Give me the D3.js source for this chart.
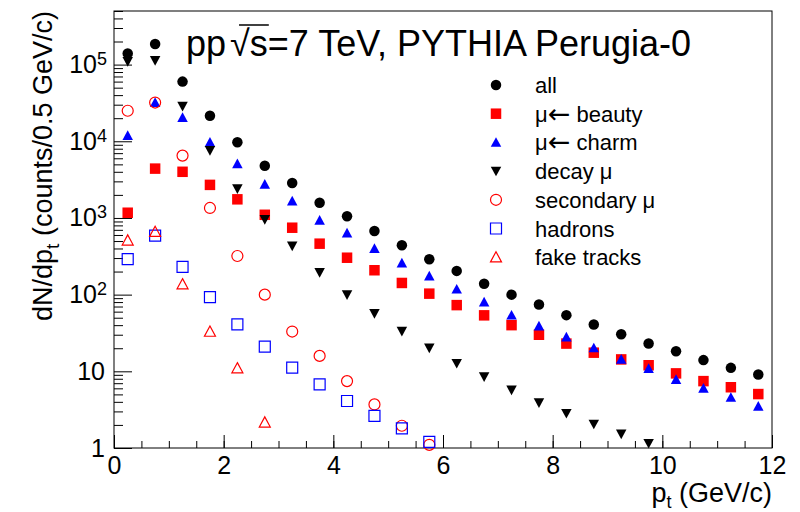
<!DOCTYPE html>
<html>
<head>
<meta charset="utf-8">
<script src="https://cdn.jsdelivr.net/npm/d3@7"></script>
<style>
  body { margin: 0; background: #fff; }
  text { font-family: "Liberation Sans", Arial, Helvetica, sans-serif; }
</style>
</head>
<body>
<svg id="chart" width="800" height="512"></svg>
<script>
// bin centres in pt (GeV/c), 0.5 GeV/c wide bins
const ptBins = [0.25, 0.75, 1.25, 1.75, 2.25, 2.75, 3.25, 3.75, 4.25, 4.75, 5.25, 5.75,
  6.25, 6.75, 7.25, 7.75, 8.25, 8.75, 9.25, 9.75, 10.25, 10.75, 11.25, 11.75];

const allMu = [1.4e5, 1.86e5, 6.0e4, 2.15e4, 9.7e3, 4.8e3, 2.85e3, 1.58e3, 1.05e3, 675, 440, 290,
  204, 139, 100, 74.5, 54, 40.8, 30.5, 23, 18.3, 14, 11.1, 9.1];
const beautyMu = [1.17e3, 4.4e3, 4.0e3, 2.7e3, 1.75e3, 1.1e3, 746, 462, 303, 208, 142, 103,
  73, 53.7, 40, 30, 23, 17.5, 14.3, 12, 9.4, 7.45, 6.2, 5.05];
const charmMu = [1.19e4, 3.2e4, 2.04e4, 9.7e3, 5.1e3, 2.75e3, 1.66e3, 935, 635, 400, 259, 175,
  118, 80, 54, 39, 28, 20.2, 14.4, 10.9, 7.8, 6.0, 4.57, 3.5];
const decayMu = [1.1e5, 1.13e5, 2.86e4, 7.6e3, 2.4e3, 955, 430, 194, 100, 56.8, 33.4, 20.2,
  12.7, 8.5, 5.7, 3.9, 2.83, 2.05, 1.52, 1.15, null, null, null, null];
const secondaryMu = [2.5e4, 3.2e4, 6.5e3, 1.35e3, 319, 100, 33, 15.9, 7.45, 3.7, 1.95, 1.1,
  null, null, null, null, null, null, null, null, null, null, null, null];
const hadrons = [290, 590, 230, 93, 41, 21, 11.2, 6.75, 4.1, 2.63, 1.8, 1.2,
  null, null, null, null, null, null, null, null, null, null, null, null];
const fakeTracks = [510, 660, 137, 33, 11, 2.16, null, null, null, null, null, null,
  null, null, null, null, null, null, null, null, null, null, null, null];

const xTicks = [0, 2, 4, 6, 8, 10, 12];
const yTicks = [1, 10, 100, 1000, 10000, 100000];

const series = [
  { label: "all", values: allMu, type: "circle", fill: "#000", stroke: "none" },
  { label: "\u03bc\u2190 beauty", values: beautyMu, type: "square", fill: "#ff0000", stroke: "none" },
  { label: "\u03bc\u2190 charm", values: charmMu, type: "triUp", fill: "#0000ff", stroke: "none" },
  { label: "decay \u03bc", values: decayMu, type: "triDown", fill: "#000", stroke: "none" },
  { label: "secondary \u03bc", values: secondaryMu, type: "circle", fill: "none", stroke: "#ff0000" },
  { label: "hadrons", values: hadrons, type: "square", fill: "none", stroke: "#0000ff" },
  { label: "fake tracks", values: fakeTracks, type: "triUp", fill: "none", stroke: "#ff0000" }
];

const W = 800, H = 512;
const margin = { top: 11, right: 28, bottom: 64, left: 114 };
const width = W - margin.left - margin.right;
const height = H - margin.top - margin.bottom;

const svg = d3.select("#chart");
const g = svg.append("g")
  .attr("transform", "translate(" + margin.left + "," + margin.top + ")");

const x = d3.scaleLinear().domain([0, 12]).range([0, width]);
const y = d3.scaleLog().domain([1, 5e5]).range([height, 0]);

// marker shapes, roughly like ROOT styles 20/21/22/23/24/25/26
function markerPath(type, s) {
  const h = s / 2;
  if (type === "circle") return d3.symbol(d3.symbolCircle, Math.PI * h * h)();
  if (type === "square") return `M${-h},${-h}H${h}V${h}H${-h}Z`;
  if (type === "triUp") return `M0,${-h}L${h},${h * 0.85}L${-h},${h * 0.85}Z`;
  return `M0,${h}L${h},${-h * 0.85}L${-h},${-h * 0.85}Z`;
}

// x axis: major ticks pointing up into the frame, minor every 0.5
g.append("g")
  .attr("transform", "translate(0," + height + ")")
  .call(d3.axisBottom(x).tickValues(d3.range(0, 12.01, 0.5)).tickSize(-7).tickFormat(""))
  .call(a => a.select(".domain").remove());

g.append("g")
  .attr("class", "xaxis")
  .attr("transform", "translate(0," + height + ")")
  .call(d3.axisBottom(x).tickValues(xTicks).tickSize(-13).tickPadding(8).tickFormat(d3.format("d")))
  .call(a => a.select(".domain").remove())
  .selectAll("text")
  .attr("font-size", 25)
  .attr("fill", "#000");

// y axis: minor ticks 2..9 each decade
const yMinor = [];
for (let e = 0; e <= 5; e++) {
  for (let m = 2; m <= 9; m++) {
    const v = m * Math.pow(10, e);
    if (v <= 5e5) yMinor.push(v);
  }
}
g.append("g")
  .call(d3.axisLeft(y).tickValues(yMinor).tickSize(-9).tickFormat(""))
  .call(a => a.select(".domain").remove());

const yAxis = g.append("g")
  .attr("class", "yaxis")
  .call(d3.axisLeft(y).tickValues(yTicks).tickSize(-18).tickPadding(9).tickFormat(""))
  .call(a => a.select(".domain").remove());

yAxis.selectAll(".tick text")
  .attr("font-size", 25)
  .attr("fill", "#000")
  .each(function (d) {
    const t = d3.select(this);
    const e = Math.round(Math.log10(d));
    if (e <= 1) {
      t.text(d);
    } else {
      t.attr("x", -7);
      t.append("tspan").text("10");
      t.append("tspan").attr("dy", "-0.45em").attr("font-size", 18).text(e);
    }
  });

g.selectAll(".tick line").attr("stroke", "#000");

// frame
g.append("rect")
  .attr("width", width)
  .attr("height", height)
  .attr("fill", "none")
  .attr("stroke", "#000")
  .attr("stroke-width", 1);

// data markers
series.forEach(s => {
  const pts = ptBins.map((p, i) => ({ p: p, v: s.values[i] })).filter(d => d.v != null);
  g.append("g")
    .selectAll("path")
    .data(pts)
    .enter()
    .append("path")
    .attr("transform", d => "translate(" + x(d.p) + "," + y(d.v) + ")")
    .attr("d", markerPath(s.type, s.fill === "none" ? 11 : 10.5))
    .attr("fill", s.fill)
    .attr("stroke", s.stroke)
    .attr("stroke-width", 1.2);
});

// legend
const legend = svg.append("g").attr("transform", "translate(496,85)");
series.forEach((s, i) => {
  const row = legend.append("g").attr("transform", "translate(0," + (i * 28.7) + ")");
  row.append("path")
    .attr("d", markerPath(s.type, s.fill === "none" ? 11 : 10.5))
    .attr("fill", s.fill)
    .attr("stroke", s.stroke)
    .attr("stroke-width", 1.2);
  const txt = row.append("text")
    .attr("x", 39)
    .attr("y", 8)
    .attr("font-size", 22)
    .attr("fill", "#000");
  const parts = s.label.split("\u2190");
  if (parts.length === 2) {
    txt.append("tspan").text(parts[0]);
    txt.append("tspan")
      .attr("font-family", "DejaVu Sans")
      .attr("font-size", 27)
      .attr("dy", 1)
      .text("\u2190");
    txt.append("tspan").attr("dy", -1).text(parts[1]);
  } else {
    txt.text(s.label);
  }
});

// title with sqrt(s)
const title = svg.append("text")
  .attr("x", 186)
  .attr("y", 56)
  .attr("font-size", 36)
  .attr("fill", "#000");
title.append("tspan").text("pp");
title.append("tspan").attr("dx", 4).text("\u221a");
title.append("tspan").text("s");
title.append("tspan").text("=7 TeV, PYTHIA Perugia-0");
const sq0 = title.node().getStartPositionOfChar(2);
const sEnd = title.node().getEndPositionOfChar(3);
svg.append("line")
  .attr("x1", sq0.x + 9).attr("x2", sEnd.x + 1)
  .attr("y1", 25).attr("y2", 25)
  .attr("stroke", "#000").attr("stroke-width", 1.5);

// axis titles
const xt = svg.append("text")
  .attr("x", 772)
  .attr("y", 502)
  .attr("text-anchor", "end")
  .attr("font-size", 27)
  .attr("fill", "#000");
xt.append("tspan").text("p");
xt.append("tspan").attr("dy", 6).attr("font-size", 18).text("t");
xt.append("tspan").attr("dy", -6).text(" (GeV/c)");

const yt = svg.append("text")
  .attr("transform", "translate(52,11) rotate(-90)")
  .attr("text-anchor", "end")
  .attr("font-size", 27)
  .attr("fill", "#000");
yt.append("tspan").text("dN/dp");
yt.append("tspan").attr("dy", 7).attr("font-size", 19).text("t");
yt.append("tspan").attr("dy", -7).text("  (counts/0.5 GeV/c)");
</script>
</body>
</html>
